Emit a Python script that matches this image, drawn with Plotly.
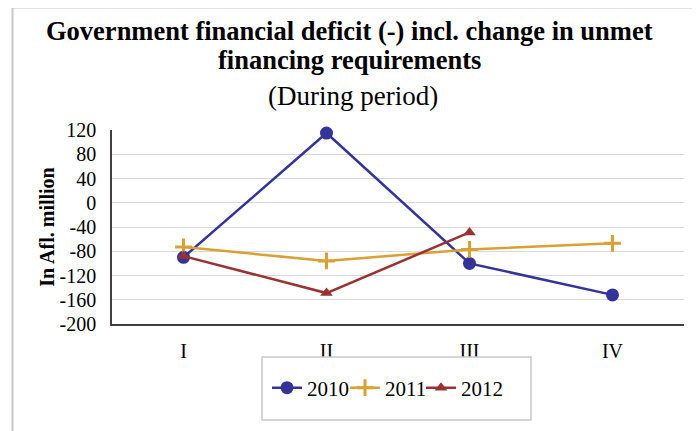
import plotly.graph_objects as go

quarters = ["I", "II", "III", "IV"]
y2010 = [-90, 115, -100, -152]
y2011 = [-73, -96, -77, -67]
y2012 = [-88, -149, -49, None]
yticks = [120, 80, 40, 0, -40, -80, -120, -160, -200]

OFF = 8  # page body margin offset
W, H = 700 - OFF, 431 - OFF
L, R, T, B = 112 - OFF, 16, 130 - OFF, 107
pw, ph = W - L - R, H - T - B

def px(x):
    return (x - OFF - L) / pw

def py(y):
    return (H - B - (y - OFF)) / ph

FONT = "Liberation Serif, Times New Roman, serif"

fig = go.Figure()
fig.add_trace(go.Scatter(x=quarters, y=y2010, name="2010", mode="lines+markers", legend="legend",
                         cliponaxis=False,
                         line=dict(color="#333399", width=2.5),
                         marker=dict(symbol="circle", size=13, color="#333399")))
fig.add_trace(go.Scatter(x=quarters, y=y2011, name="2011", mode="lines+markers", legend="legend2",
                         cliponaxis=False,
                         line=dict(color="#D9A033", width=2.5),
                         marker=dict(symbol="cross-thin", size=12, color="#D9A033",
                                     line=dict(color="#D9A033", width=3))))
fig.add_trace(go.Scatter(x=quarters, y=y2012, name="2012", mode="lines+markers", legend="legend3",
                         cliponaxis=False,
                         line=dict(color="#993333", width=2.5),
                         marker=dict(symbol="triangle-up", size=11, color="#993333")))

def leg(xc):
    return dict(orientation="h", x=px(xc - 20), y=py(388), xanchor="left", yanchor="middle",
                bgcolor="rgba(0,0,0,0)", borderwidth=0, font=dict(family=FONT, size=21))

fig.update_layout(
    width=W, height=H,
    margin=dict(l=L, r=R, t=T, b=B),
    paper_bgcolor="white", plot_bgcolor="white",
    font=dict(family=FONT, size=20, color="black"),
    showlegend=True,
    legend=leg(287), legend2=leg(365), legend3=leg(441),
    xaxis=dict(type="category", range=[-0.5, 3.5], showgrid=False, showline=True,
               linecolor="#404040", linewidth=1.5, ticks="", ticklabelstandoff=8,
               tickfont=dict(family=FONT, size=20)),
    yaxis=dict(range=[-200, 120], tickvals=yticks, ticktext=[str(v) for v in yticks],
               showgrid=True, gridcolor="#D9D9D9", gridwidth=1.2, zeroline=False,
               showline=True, linecolor="#404040", linewidth=1.5, ticks="",
               ticklabelstandoff=10, tickfont=dict(family=FONT, size=20),
               title=dict(text="<b>In Afl. million</b>", standoff=0,
                          font=dict(family=FONT, size=20))),
    shapes=[
        dict(type="rect", xref="paper", yref="paper", x0=px(12.5), x1=px(695), y0=py(445), y1=py(7.5),
             line=dict(color="#C8C8C8", width=2), fillcolor="rgba(0,0,0,0)", layer="below"),
        dict(type="rect", xref="paper", yref="paper", x0=px(262), x1=px(531), y0=py(420), y1=py(357),
             line=dict(color="#C8C8C8", width=1.5), fillcolor="white"),
    ],
    annotations=[
        dict(text="<b>Government financial deficit (-) incl. change in unmet</b>",
             xref="paper", yref="paper", x=px(349), y=py(31),
             xanchor="center", yanchor="middle", showarrow=False,
             font=dict(family=FONT, size=26.5, color="black")),
        dict(text="<b>financing requirements</b>",
             xref="paper", yref="paper", x=px(349), y=py(60),
             xanchor="center", yanchor="middle", showarrow=False,
             font=dict(family=FONT, size=26.5, color="black")),
        dict(text="(During period)", xref="paper", yref="paper", x=px(352.5), y=py(96),
             xanchor="center", yanchor="middle", showarrow=False,
             font=dict(family=FONT, size=27, color="black")),
    ],
)

fig.write_html("out.html")
